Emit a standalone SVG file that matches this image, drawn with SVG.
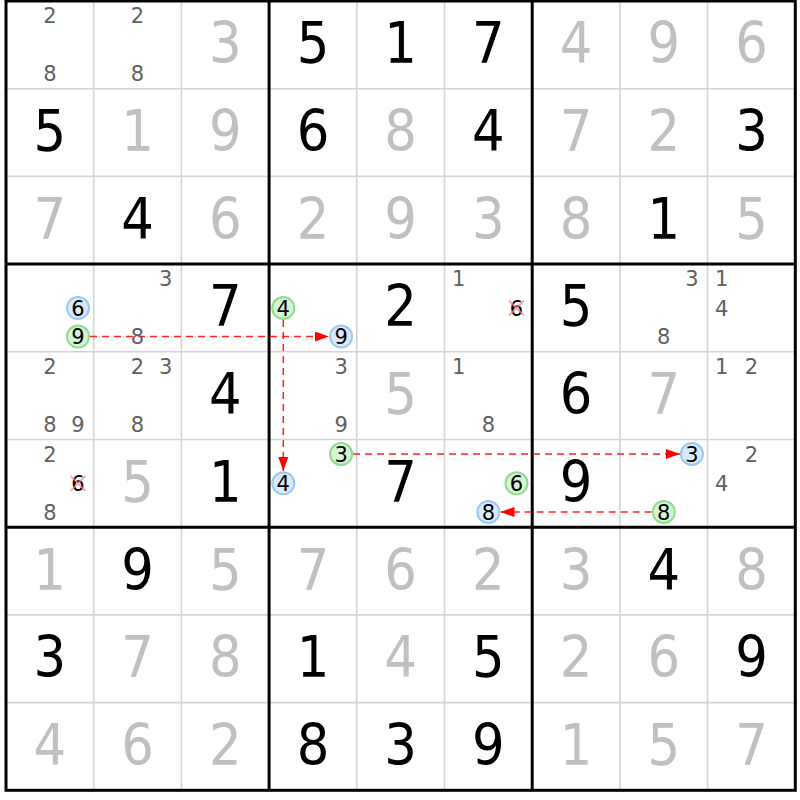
<svg xmlns="http://www.w3.org/2000/svg" width="800" height="800" viewBox="0 0 800 800">
<style>
text{font-family:"DejaVu Sans","Liberation Sans",sans-serif;text-anchor:middle}
.g{font-family:"DejaVu Sans Condensed","DejaVu Sans",sans-serif;font-size:57px;fill:#c0c0c0}
.b{font-family:"DejaVu Sans Condensed","DejaVu Sans",sans-serif;font-size:57px;fill:#000}
.c{font-size:21px;fill:#606060}
.k{font-size:21px;fill:#000}
.thin{stroke:#d4d4d4;stroke-width:1.6}
.thick{stroke:#000;stroke-width:3}
.cg{fill:#d4f4d4;stroke:#8edc8e;stroke-width:2}
.cb{fill:#d8eafc;stroke:#9cc8f0;stroke-width:2}
.x{stroke:#ff7f7f;stroke-width:2;stroke-opacity:0.7}
.arr{stroke:#ff2020;stroke-width:1.5;stroke-dasharray:7 5;fill:none;marker-end:url(#ah)}
</style>
<defs>
<marker id="ah" markerUnits="userSpaceOnUse" markerWidth="15" markerHeight="11" refX="14" refY="5" orient="auto">
<path d="M0,0 L14,5 L0,10 z" fill="#ff0000"/>
</marker>
</defs>
<rect x="0" y="0" width="800" height="800" fill="#fff"/>
<g id="grid">
<line class="thin" x1="93.7" y1="1" x2="93.7" y2="790.3"/>
<line class="thin" x1="181.4" y1="1" x2="181.4" y2="790.3"/>
<line class="thin" x1="356.8" y1="1" x2="356.8" y2="790.3"/>
<line class="thin" x1="444.5" y1="1" x2="444.5" y2="790.3"/>
<line class="thin" x1="619.9" y1="1" x2="619.9" y2="790.3"/>
<line class="thin" x1="707.6" y1="1" x2="707.6" y2="790.3"/>
<line class="thin" x1="6" y1="88.7" x2="795.3" y2="88.7"/>
<line class="thin" x1="6" y1="176.4" x2="795.3" y2="176.4"/>
<line class="thin" x1="6" y1="351.8" x2="795.3" y2="351.8"/>
<line class="thin" x1="6" y1="439.5" x2="795.3" y2="439.5"/>
<line class="thin" x1="6" y1="614.9" x2="795.3" y2="614.9"/>
<line class="thin" x1="6" y1="702.6" x2="795.3" y2="702.6"/>
<line class="thick" x1="269.1" y1="1" x2="269.1" y2="790.3"/>
<line class="thick" x1="532.2" y1="1" x2="532.2" y2="790.3"/>
<line class="thick" x1="6" y1="264.1" x2="795.3" y2="264.1"/>
<line class="thick" x1="6" y1="527.2" x2="795.3" y2="527.2"/>
<rect x="6" y="1" width="789.3" height="789.3" fill="none" stroke="#000" stroke-width="3"/>
</g>
<g id="row0">
<g id="r0c0"><text class="c" x="49.85" y="23.1">2</text><text class="c" x="49.85" y="81.1">8</text></g>
<g id="r0c1"><text class="c" x="137.55" y="23.1">2</text><text class="c" x="137.55" y="81.1">8</text></g>
<g id="r0c2"><text class="g" x="225.25" y="63.35">3</text></g>
<g id="r0c3"><text class="b" x="312.95" y="63.35">5</text></g>
<g id="r0c4"><text class="b" x="400.65" y="63.35">1</text></g>
<g id="r0c5"><text class="b" x="488.35" y="63.35">7</text></g>
<g id="r0c6"><text class="g" x="576.05" y="63.35">4</text></g>
<g id="r0c7"><text class="g" x="663.75" y="63.35">9</text></g>
<g id="r0c8"><text class="g" x="751.45" y="63.35">6</text></g>
</g>
<g id="row1">
<g id="r1c0"><text class="b" x="49.85" y="151.05">5</text></g>
<g id="r1c1"><text class="g" x="137.55" y="151.05">1</text></g>
<g id="r1c2"><text class="g" x="225.25" y="151.05">9</text></g>
<g id="r1c3"><text class="b" x="312.95" y="151.05">6</text></g>
<g id="r1c4"><text class="g" x="400.65" y="151.05">8</text></g>
<g id="r1c5"><text class="b" x="488.35" y="151.05">4</text></g>
<g id="r1c6"><text class="g" x="576.05" y="151.05">7</text></g>
<g id="r1c7"><text class="g" x="663.75" y="151.05">2</text></g>
<g id="r1c8"><text class="b" x="751.45" y="151.05">3</text></g>
</g>
<g id="row2">
<g id="r2c0"><text class="g" x="49.85" y="238.75">7</text></g>
<g id="r2c1"><text class="b" x="137.55" y="238.75">4</text></g>
<g id="r2c2"><text class="g" x="225.25" y="238.75">6</text></g>
<g id="r2c3"><text class="g" x="312.95" y="238.75">2</text></g>
<g id="r2c4"><text class="g" x="400.65" y="238.75">9</text></g>
<g id="r2c5"><text class="g" x="488.35" y="238.75">3</text></g>
<g id="r2c6"><text class="g" x="576.05" y="238.75">8</text></g>
<g id="r2c7"><text class="b" x="663.75" y="238.75">1</text></g>
<g id="r2c8"><text class="g" x="751.45" y="238.75">5</text></g>
</g>
<g id="connectors">
<line class="arr" x1="90" y1="336.6" x2="329" y2="336.6"/>
<line class="arr" x1="283.3" y1="320" x2="283.3" y2="471"/>
<line class="arr" x1="353" y1="454" x2="680" y2="454"/>
<line class="arr" x1="651.7" y1="512" x2="500.5" y2="512"/>
</g>
<g id="row3">
<g id="r3c0"><circle class="cb" cx="78" cy="307.95" r="11"/><text class="k" x="78" y="315.55">6</text><circle class="cg" cx="78" cy="336.6" r="11"/><text class="k" x="78" y="344.2">9</text></g>
<g id="r3c1"><text class="c" x="165.7" y="286.2">3</text><text class="c" x="137.55" y="344.2">8</text></g>
<g id="r3c2"><text class="b" x="225.25" y="326.45">7</text></g>
<g id="r3c3"><circle class="cg" cx="283.3" cy="307.95" r="11"/><text class="k" x="283.3" y="315.55">4</text><circle class="cb" cx="341.1" cy="336.6" r="11"/><text class="k" x="341.1" y="344.2">9</text></g>
<g id="r3c4"><text class="b" x="400.65" y="326.45">2</text></g>
<g id="r3c5"><text class="c" x="458.7" y="286.2">1</text><text class="k" x="516.5" y="315.55">6</text><path class="x" d="M509,300.5 L524,315.5 M524,300.5 L509,315.5"/></g>
<g id="r3c6"><text class="b" x="576.05" y="326.45">5</text></g>
<g id="r3c7"><text class="c" x="691.9" y="286.2">3</text><text class="c" x="663.75" y="344.2">8</text></g>
<g id="r3c8"><text class="c" x="721.8" y="286.2">1</text><text class="c" x="721.8" y="315.55">4</text></g>
</g>
<g id="row4">
<g id="r4c0"><text class="c" x="49.85" y="373.9">2</text><text class="c" x="49.85" y="431.9">8</text><text class="c" x="78" y="431.9">9</text></g>
<g id="r4c1"><text class="c" x="137.55" y="373.9">2</text><text class="c" x="165.7" y="373.9">3</text><text class="c" x="137.55" y="431.9">8</text></g>
<g id="r4c2"><text class="b" x="225.25" y="414.15">4</text></g>
<g id="r4c3"><text class="c" x="341.1" y="373.9">3</text><text class="c" x="341.1" y="431.9">9</text></g>
<g id="r4c4"><text class="g" x="400.65" y="414.15">5</text></g>
<g id="r4c5"><text class="c" x="458.7" y="373.9">1</text><text class="c" x="488.35" y="431.9">8</text></g>
<g id="r4c6"><text class="b" x="576.05" y="414.15">6</text></g>
<g id="r4c7"><text class="g" x="663.75" y="414.15">7</text></g>
<g id="r4c8"><text class="c" x="721.8" y="373.9">1</text><text class="c" x="751.45" y="373.9">2</text></g>
</g>
<g id="row5">
<g id="r5c0"><text class="c" x="49.85" y="461.6">2</text><text class="k" x="78" y="490.95">6</text><path class="x" d="M70.5,475.9 L85.5,490.9 M85.5,475.9 L70.5,490.9"/><text class="c" x="49.85" y="519.6">8</text></g>
<g id="r5c1"><text class="g" x="137.55" y="501.85">5</text></g>
<g id="r5c2"><text class="b" x="225.25" y="501.85">1</text></g>
<g id="r5c3"><circle class="cg" cx="341.1" cy="454" r="11"/><text class="k" x="341.1" y="461.6">3</text><circle class="cb" cx="283.3" cy="483.35" r="11"/><text class="k" x="283.3" y="490.95">4</text></g>
<g id="r5c4"><text class="b" x="400.65" y="501.85">7</text></g>
<g id="r5c5"><circle class="cg" cx="516.5" cy="483.35" r="11"/><text class="k" x="516.5" y="490.95">6</text><circle class="cb" cx="488.35" cy="512" r="11"/><text class="k" x="488.35" y="519.6">8</text></g>
<g id="r5c6"><text class="b" x="576.05" y="501.85">9</text></g>
<g id="r5c7"><circle class="cb" cx="691.9" cy="454" r="11"/><text class="k" x="691.9" y="461.6">3</text><circle class="cg" cx="663.75" cy="512" r="11"/><text class="k" x="663.75" y="519.6">8</text></g>
<g id="r5c8"><text class="c" x="751.45" y="461.6">2</text><text class="c" x="721.8" y="490.95">4</text></g>
</g>
<g id="row6">
<g id="r6c0"><text class="g" x="49.85" y="589.55">1</text></g>
<g id="r6c1"><text class="b" x="137.55" y="589.55">9</text></g>
<g id="r6c2"><text class="g" x="225.25" y="589.55">5</text></g>
<g id="r6c3"><text class="g" x="312.95" y="589.55">7</text></g>
<g id="r6c4"><text class="g" x="400.65" y="589.55">6</text></g>
<g id="r6c5"><text class="g" x="488.35" y="589.55">2</text></g>
<g id="r6c6"><text class="g" x="576.05" y="589.55">3</text></g>
<g id="r6c7"><text class="b" x="663.75" y="589.55">4</text></g>
<g id="r6c8"><text class="g" x="751.45" y="589.55">8</text></g>
</g>
<g id="row7">
<g id="r7c0"><text class="b" x="49.85" y="677.25">3</text></g>
<g id="r7c1"><text class="g" x="137.55" y="677.25">7</text></g>
<g id="r7c2"><text class="g" x="225.25" y="677.25">8</text></g>
<g id="r7c3"><text class="b" x="312.95" y="677.25">1</text></g>
<g id="r7c4"><text class="g" x="400.65" y="677.25">4</text></g>
<g id="r7c5"><text class="b" x="488.35" y="677.25">5</text></g>
<g id="r7c6"><text class="g" x="576.05" y="677.25">2</text></g>
<g id="r7c7"><text class="g" x="663.75" y="677.25">6</text></g>
<g id="r7c8"><text class="b" x="751.45" y="677.25">9</text></g>
</g>
<g id="row8">
<g id="r8c0"><text class="g" x="49.85" y="764.95">4</text></g>
<g id="r8c1"><text class="g" x="137.55" y="764.95">6</text></g>
<g id="r8c2"><text class="g" x="225.25" y="764.95">2</text></g>
<g id="r8c3"><text class="b" x="312.95" y="764.95">8</text></g>
<g id="r8c4"><text class="b" x="400.65" y="764.95">3</text></g>
<g id="r8c5"><text class="b" x="488.35" y="764.95">9</text></g>
<g id="r8c6"><text class="g" x="576.05" y="764.95">1</text></g>
<g id="r8c7"><text class="g" x="663.75" y="764.95">5</text></g>
<g id="r8c8"><text class="g" x="751.45" y="764.95">7</text></g>
</g>
</svg>
